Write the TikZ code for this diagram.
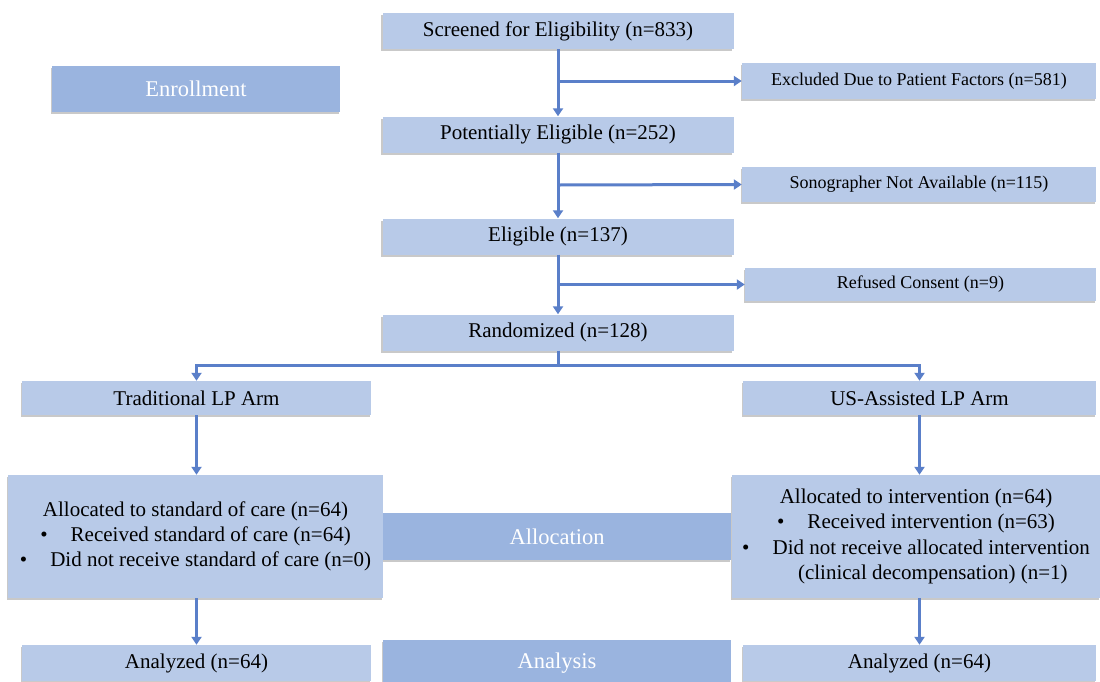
\documentclass[tikz,border=0pt]{standalone}
\usepackage{fontspec}
\setmainfont{Liberation Serif}
\newfontfamily\tnr{Liberation Serif}
\usetikzlibrary{arrows.meta,shadows}
\definecolor{boxfill}{HTML}{B8CAE8}
\definecolor{phasefill}{HTML}{9AB4DF}
\definecolor{arrowc}{HTML}{5A7FC9}
\tikzset{
  shad/.style={drop shadow={shadow xshift=-1.5pt,shadow yshift=-2pt,opacity=.35,fill=black!60}},
  box/.style={shad,fill=boxfill,inner sep=0pt,font=\tnr\fontsize{21}{25.2}\selectfont,align=center},
  smallbox/.style={box,font=\tnr\fontsize{18}{21}\selectfont},
  phase/.style={shad,fill=phasefill,inner sep=0pt,text=white,font=\tnr\fontsize{22.5}{26}\selectfont},
  conn/.style={draw=arrowc,line width=3pt,-{Triangle[width=10pt,length=8pt]}},
  line/.style={draw=arrowc,line width=3pt}
}
\begin{document}
\begin{tikzpicture}[x=1pt,y=-1pt]
\clip (0,0) rectangle (1100,681);
\fill[white] (0,0) rectangle (1100,681);
% phase boxes
\node[phase,minimum width=288pt,minimum height=46pt] (enr) at (196,89) {Enrollment};
\node[phase,minimum width=348pt,minimum height=47pt] (alc) at (557,536.5) {Allocation};
\node[phase,minimum width=348pt,minimum height=46pt] (anl) at (557,663) {Analysis};
% main column
\node[box,minimum width=351pt,minimum height=36pt] (scr) at (558,31) {Screened for Eligibility (n=833)};
\node[box,minimum width=351pt,minimum height=36pt] (pot) at (558,134.5) {Potentially Eligible (n=252)};
\node[box,minimum width=351pt,minimum height=36pt] (eli) at (558,236.5) {Eligible (n=137)};
\node[box,minimum width=351pt,minimum height=36pt] (ran) at (558,332.5) {Randomized (n=128)};
% exclusions
\node[smallbox,minimum width=354pt,minimum height=36pt] (exc) at (919,81) {Excluded Due to Patient Factors (n=581)};
\node[smallbox,minimum width=354pt,minimum height=35pt] (son) at (919,184.5) {Sonographer Not Available (n=115)};
\node[smallbox,minimum width=351pt,minimum height=33pt] (ref) at (920.5,284.5) {Refused Consent (n=9)};
% arms
\node[box,minimum width=349pt,minimum height=34pt] (tra) at (196.5,398) {Traditional LP Arm};
\node[box,minimum width=353pt,minimum height=34pt] (usa) at (919.5,398) {US-Assisted LP Arm};
\node[box,minimum width=375pt,minimum height=123pt] (als) at (195.5,536.5)
  {Allocated to standard of care (n=64)\\
   •\hspace{1.1em}Received standard of care (n=64)\\
   •\hspace{1.1em}Did not receive standard of care (n=0)};
\node[box,minimum width=368pt,minimum height=123pt] (ali) at (916,536.5)
  {Allocated to intervention (n=64)\\
   •\hspace{1.1em}Received intervention (n=63)\\
   •\hspace{1.1em}Did not receive allocated intervention\\
   \hspace{1.6em}(clinical decompensation) (n=1)};
\node[box,minimum width=349pt,minimum height=36pt] (an1) at (196.5,663) {Analyzed (n=64)};
\node[box,minimum width=353pt,minimum height=36pt] (an2) at (919.5,663) {Analyzed (n=64)};
% connectors
\coordinate (b1) at (558,81);
\coordinate (b2) at (558,185);
\coordinate (b3) at (558,284.5);
\coordinate (sp) at (558,365);
\draw[conn] (scr.south) -- (pot.north);
\draw[conn] (b1) -- (exc.west);
\draw[conn] (pot.south) -- (eli.north);
\draw[conn] (b2) -- (son.west);
\draw[conn] (eli.south) -- (ran.north);
\draw[conn] (b3) -- (ref.west);
\draw[line] (ran.south) -- (sp);
\draw[conn] ([xshift=1.5pt]sp) -| (tra.north);
\draw[conn] ([xshift=-1.5pt]sp) -| (usa.north);
\draw[conn] (tra.south) -- (tra.south |- als.north);
\draw[conn] (usa.south) -- (usa.south |- ali.north);
\draw[conn] (als.south -| tra.south) -- (an1.north);
\draw[conn] (ali.south -| usa.south) -- (an2.north);
\end{tikzpicture}
\end{document}
